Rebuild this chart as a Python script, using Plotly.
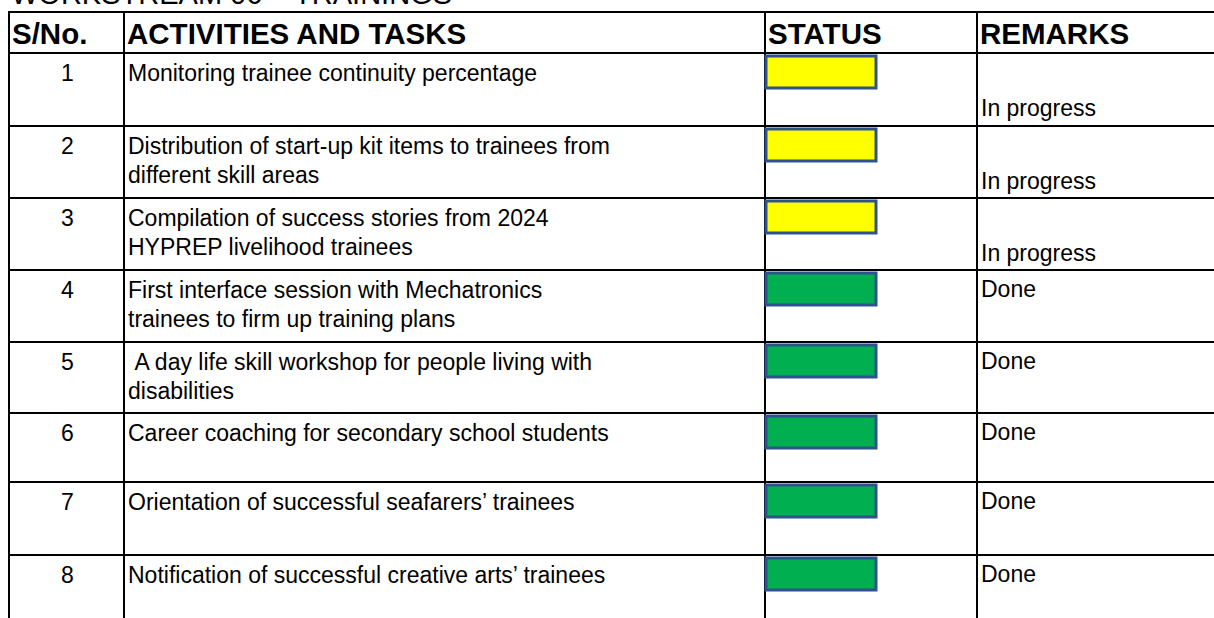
import plotly.graph_objects as go

# ---------------- data ----------------
title = "WORKSTREAM 06 \u2013 TRAININGS"
headers = ["S/No.", "ACTIVITIES AND TASKS", "STATUS", "REMARKS"]
sno = ["1", "2", "3", "4", "5", "6", "7", "8"]
activities = [
    ["Monitoring trainee continuity percentage"],
    ["Distribution of start-up kit items to trainees from", "different skill areas"],
    ["Compilation of success stories from 2024", "HYPREP livelihood trainees"],
    ["First interface session with Mechatronics", "trainees to firm up training plans"],
    ["\u00a0A day life skill workshop for people living with", "disabilities"],
    ["Career coaching for secondary school students"],
    ["Orientation of successful seafarers\u2019 trainees"],
    ["Notification of successful creative arts\u2019 trainees"],
]
status = ["in_progress", "in_progress", "in_progress", "done", "done", "done", "done", "done"]
remarks = ["In progress", "In progress", "In progress", "Done", "Done", "Done", "Done", "Done"]

# ---------------- layout / style ----------------
W, H = 1214, 618
col_x = [9, 124, 765, 977, 1240]
header_top = 12
header_h = 41
row_h = [73, 72, 72, 72, 71, 69, 73, 90]
status_colors = {"in_progress": "#FFFF00", "done": "#00B050"}
box_border = "#2F528F"
FONT = "Liberation Sans, Arial, sans-serif"
body_size = 23
head_size = 29.5
title_size = 29
line_pitch = 29

row_tops = [header_top + header_h]
for h in row_h[:-1]:
    row_tops.append(row_tops[-1] + h)
bottom = row_tops[-1] + row_h[-1]

fig = go.Figure()
shapes = []
ann = []

# grid lines
hlines = [header_top, header_top + header_h] + row_tops[1:]
for y in hlines:
    shapes.append(dict(type="line", xref="x", yref="y", x0=col_x[0] - 1, x1=col_x[-1],
                       y0=y, y1=y, line=dict(color="black", width=2)))
for x in col_x:
    shapes.append(dict(type="line", xref="x", yref="y", x0=x, x1=x,
                       y0=header_top - 1, y1=bottom, line=dict(color="black", width=2)))

# status boxes
for i, s in enumerate(status):
    t = row_tops[i]
    shapes.append(dict(type="rect", xref="x", yref="y", x0=col_x[2] + 1, x1=col_x[2] + 111,
                       y0=t + 3, y1=t + 35, fillcolor=status_colors[s],
                       line=dict(color=box_border, width=3), layer="above"))

def text(x, y, s, size, bold=False, xanchor="left", yanchor="middle"):
    ann.append(dict(x=x, y=y, xref="x", yref="y", text=("<b>%s</b>" % s) if bold else s,
                    showarrow=False, xanchor=xanchor, yanchor=yanchor,
                    font=dict(family=FONT, size=size, color="black")))

# title (cut at top, as in the source)
text(9, 12, title, title_size, yanchor="bottom")

# headers
hy = header_top + header_h / 2 + 1
text(10, hy, headers[0], head_size, bold=True)
for j in range(1, 4):
    text(col_x[j] + 1, hy, headers[j], head_size, bold=True)

# rows
for i in range(len(sno)):
    t = row_tops[i]
    text((col_x[0] + col_x[1]) / 2 + 1, t + 20, sno[i], body_size, xanchor="center")
    for k, line in enumerate(activities[i]):
        text(col_x[1] + 2, t + 20 + k * line_pitch, line, body_size)
    ry = t + 55 if status[i] == "in_progress" else t + 19
    text(col_x[3] + 2, ry, remarks[i], body_size)

fig.update_layout(
    width=W, height=H, margin=dict(l=0, r=0, t=0, b=0),
    paper_bgcolor="white", plot_bgcolor="white",
    xaxis=dict(range=[0, W], visible=False, fixedrange=True),
    yaxis=dict(range=[H, 0], visible=False, fixedrange=True),
    shapes=shapes, annotations=ann, showlegend=False,
)
fig.write_html("out.html", config={"displayModeBar": False},
               post_script="document.body.style.margin='0';document.body.style.overflow='hidden';")
